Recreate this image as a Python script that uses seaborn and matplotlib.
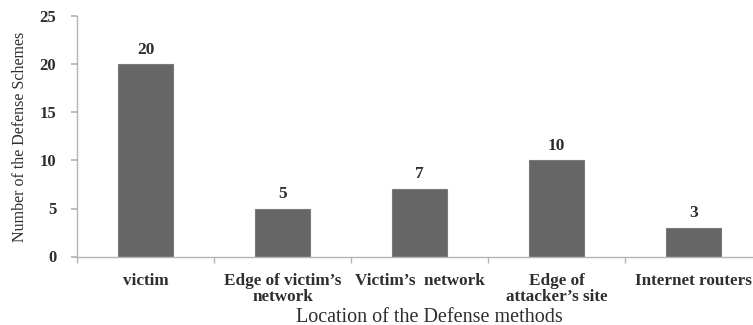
import matplotlib
matplotlib.use("Agg")
import matplotlib.pyplot as plt
import seaborn as sns
import pandas as pd

categories = ["victim", "Edge of victim\u2019s\nnetwork", "Victim\u2019s  network",
              "Edge of\nattacker\u2019s site", "Internet routers"]
counts = [20, 5, 7, 10, 3]
y_ticks = [0, 5, 10, 15, 20, 25]

sns.set_theme(style="white")
plt.rcParams["font.family"] = ["Liberation Serif", "DejaVu Serif"]

df = pd.DataFrame({"location": categories, "count": counts})

fig = plt.figure(figsize=(7.53, 3.25), dpi=100)
ax = fig.add_axes([77 / 753, 1 - 256.5 / 325, (762 - 77) / 753, 240 / 325])

sns.barplot(data=df, x="location", y="count", color="#666666", width=0.4,
            saturation=1, edgecolor="#7a7a7a", linewidth=0.8, ax=ax)

ax.set_xlim(-0.5, len(categories) - 0.5)
ax.set_ylim(0, 25)
ax.set_yticks(y_ticks)

text_color = "#2e2e2e"

for i, v in enumerate(counts):
    ax.text(i, v + 1.55, str(v), ha="center", va="center", fontsize=12.5,
            fontweight="bold", color=text_color)

for s in ["top", "right"]:
    ax.spines[s].set_visible(False)
for s in ["left", "bottom"]:
    ax.spines[s].set_color("#b5b5b5")
    ax.spines[s].set_linewidth(1.0)

ax.tick_params(axis="y", which="major", left=True, length=4, color="#b5b5b5",
               labelsize=12, labelcolor=text_color, pad=11)
for lab in ax.get_yticklabels():
    lab.set_fontweight("bold")

ax.set_xticks(range(len(categories)))
ax.set_xticklabels(categories, fontsize=12.3, color=text_color, fontweight="bold",
                   linespacing=1.0)
ax.tick_params(axis="x", which="major", bottom=False, pad=6)
ax.set_xticks([i - 0.5 for i in range(len(categories) + 1)], minor=True)
ax.tick_params(axis="x", which="minor", bottom=True, length=4, color="#b5b5b5")

ax.set_xlabel("Location of the Defense methods", fontsize=14.5, color=text_color)
ax.xaxis.set_label_coords((429 - 77) / 685, -(317 - 256.5) / 240)
ax.xaxis.label.set_va("center")
ax.set_ylabel("Number of the Defense Schemes", fontsize=11.5, color=text_color)
ax.yaxis.set_label_coords(-(77 - 20) / 685, 0.5)
ax.yaxis.label.set_va("center")

fig.savefig("out.png", dpi=100)
